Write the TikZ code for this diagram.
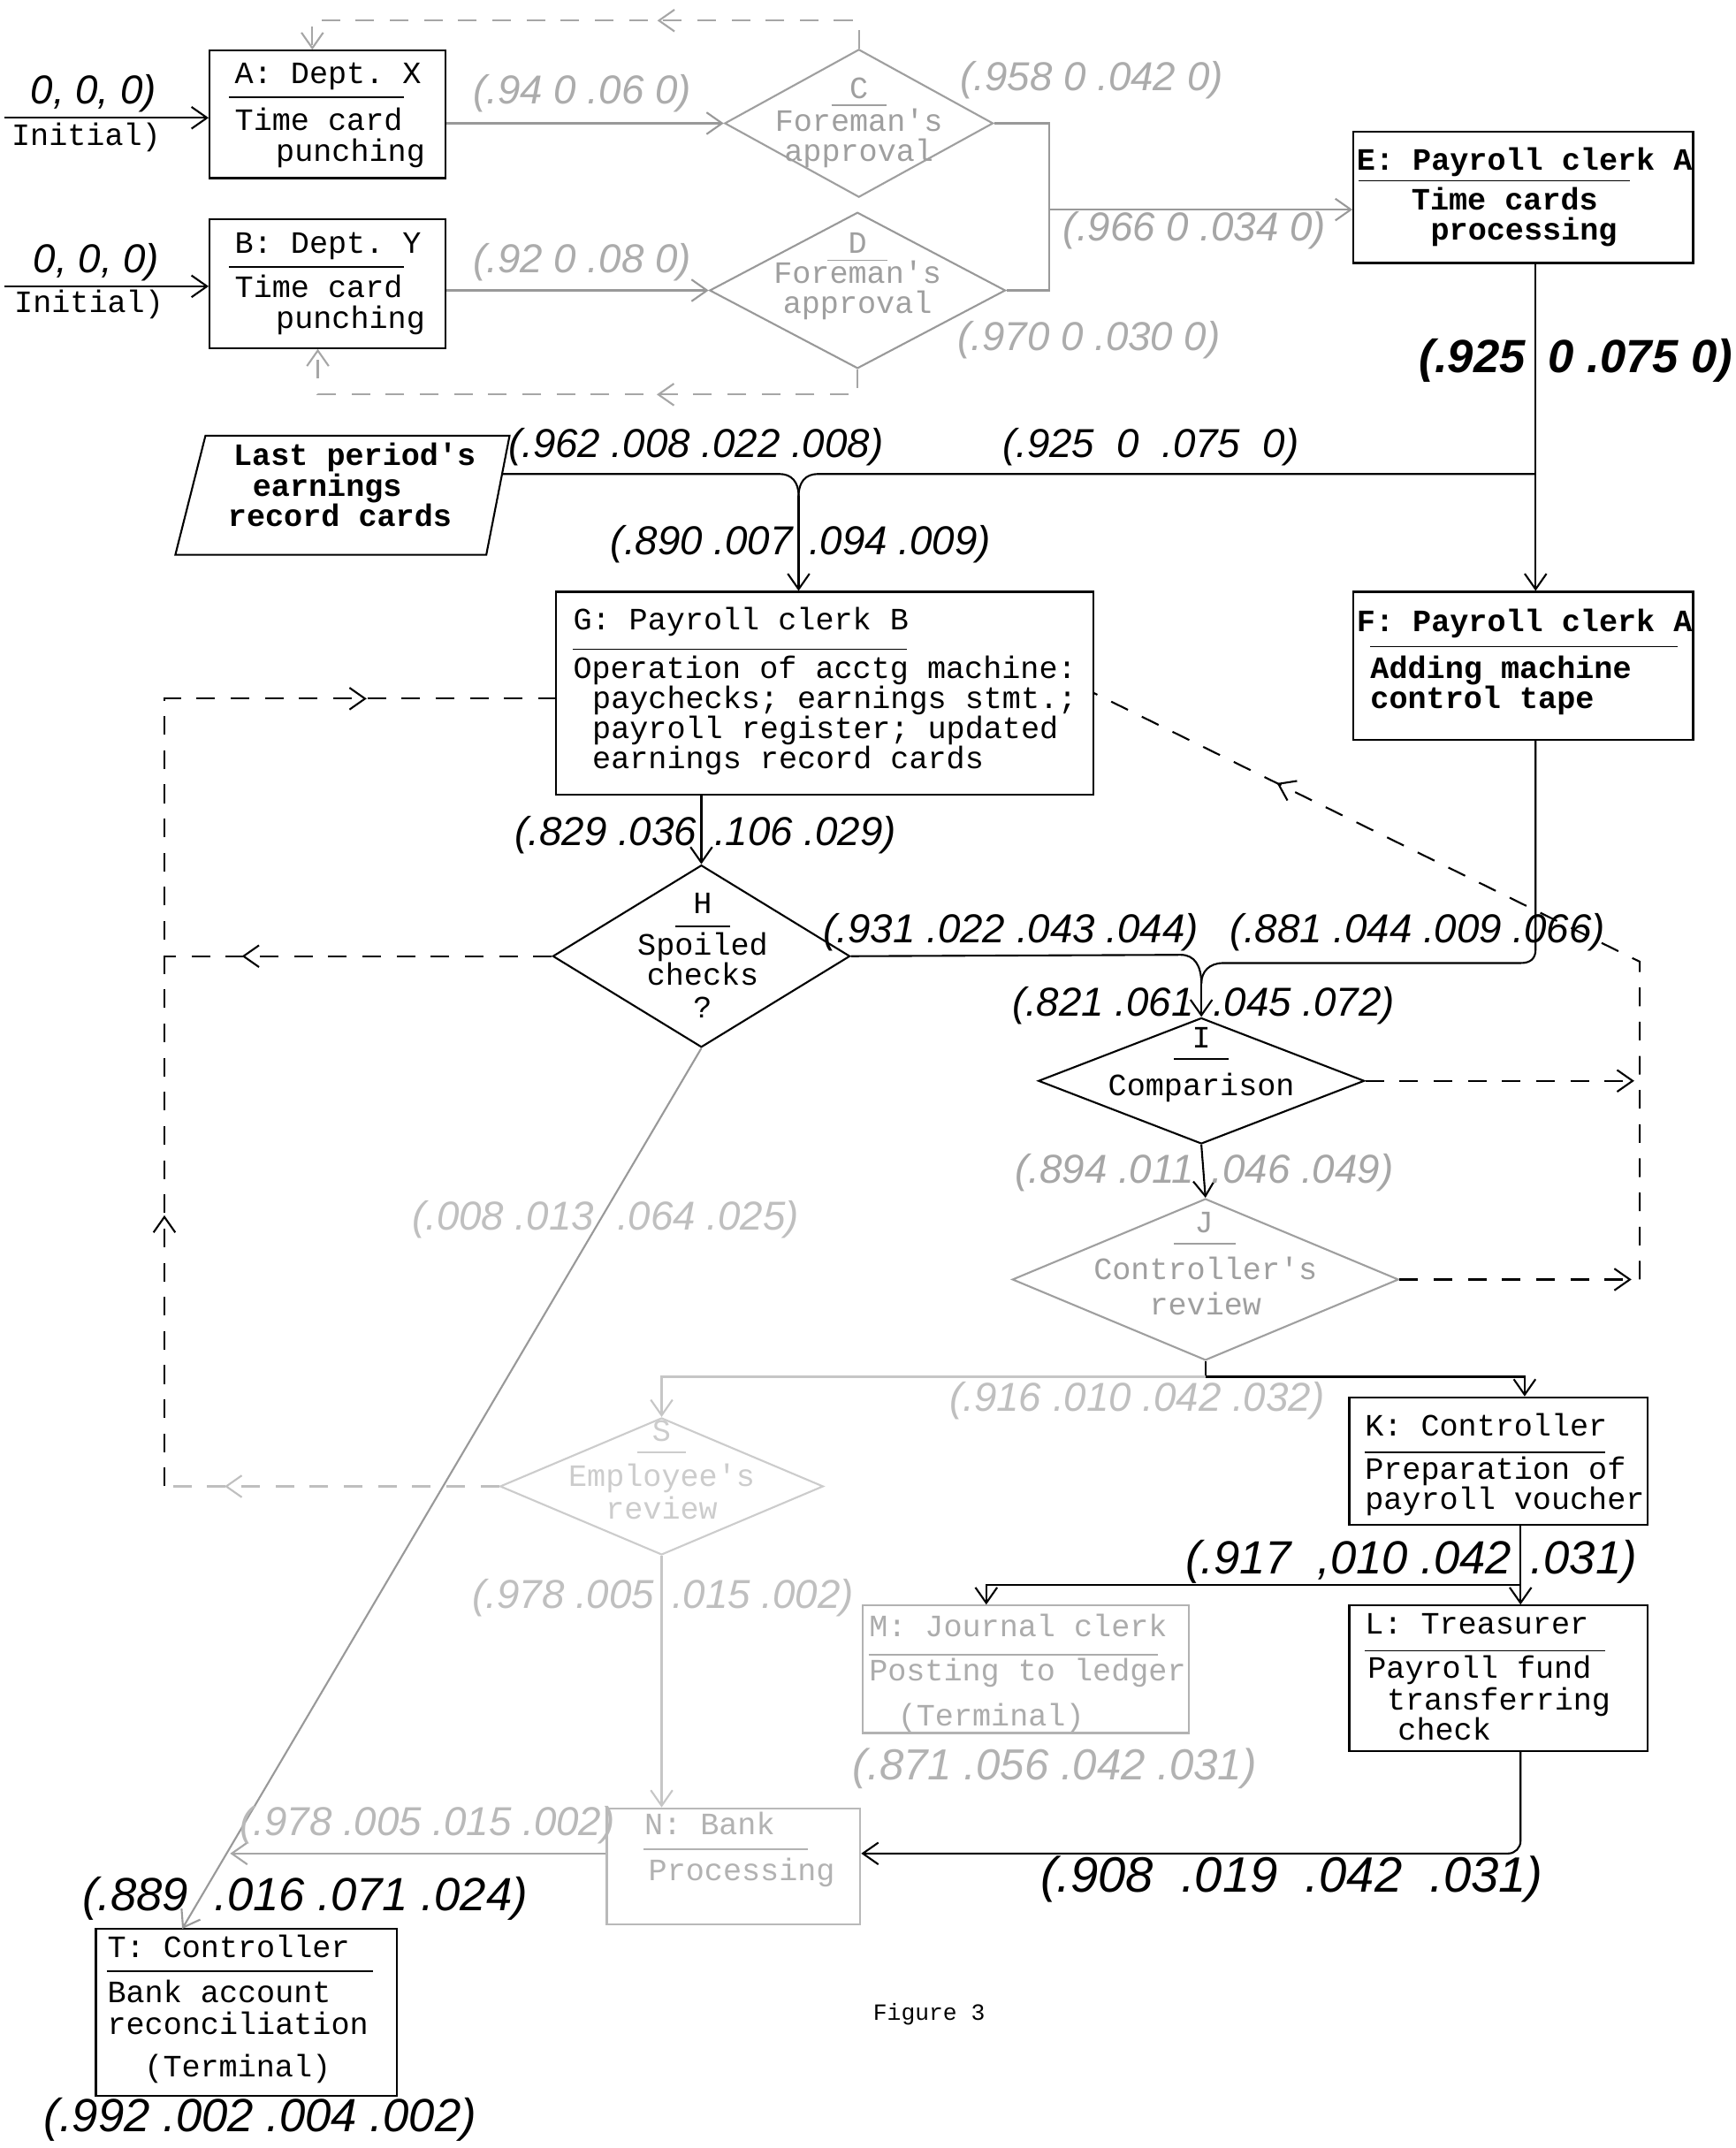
\documentclass[tikz,border=0pt]{standalone}
\usepackage{fontspec}
\setmonofont{Liberation Mono}
\newfontfamily\hwfont{Liberation Sans}
\usetikzlibrary{arrows.meta,shapes.geometric,decorations.markings,fit}
\begin{document}
\begin{tikzpicture}[x=0.0155cm,y=-0.0155cm,
  tx/.style={font=\ttfamily\fontsize{10}{10}\selectfont, inner sep=0, anchor=base west},
  txc/.style={tx, anchor=base},
  txb/.style={tx, font=\ttfamily\bfseries\fontsize{10}{10}\selectfont},
  lbl/.style={font=\hwfont\itshape\fontsize{13}{13}\selectfont, inner sep=0, anchor=base},
  lblb/.style={font=\hwfont\itshape\bfseries\fontsize{15}{15}\selectfont, inner sep=0, anchor=base},
  big/.style={font=\hwfont\itshape\fontsize{15}{15}\selectfont},
  box/.style={draw, line width=0.6pt, inner sep=0},
  dia/.style 2 args={draw, diamond, line width=0.6pt, inner sep=0, minimum width=#1*0.0155cm, minimum height=#2*0.0155cm},
  ln/.style={line width=0.6pt},
  arr/.style={-{Straight Barb[length=5pt,width=7pt]}},
  dsh/.style={line width=0.6pt, dash pattern=on 6pt off 5pt},
  midarr/.style={postaction={decorate}, decoration={markings, mark=at position #1 with {\arrow{Straight Barb[length=5pt,width=7pt]}}}},
  midarrtwo/.style 2 args={postaction={decorate}, decoration={markings, mark=at position #1 with {\arrow{Straight Barb[length=5pt,width=7pt]}}, mark=at position #2 with {\arrow{Straight Barb[length=5pt,width=7pt]}}}},
  ul/.style={line width=0.5pt}
]
\fill[white] (0,0) rectangle (1267,1568);
\useasboundingbox (0,0) rectangle (1267,1568);

% ---------- boxes ----------
\node[box, fit={(153,37) (325,130)}] (A) {};
\node[box, fit={(153,160) (325,254)}] (B) {};
\node[box, fit={(988,96) (1236,192)}] (E) {};
\node[box, fit={(988,432) (1236,540)}] (F) {};
\node[box, fit={(406,432) (798,580)}] (G) {};
\node[box, fit={(985,1020) (1203,1113)}] (K) {};
\node[box, fit={(985,1172) (1203,1278)}] (L) {};
\node[box, draw=gray!60, fit={(630,1172) (868,1265)}] (M) {};
\node[box, draw=gray!55, fit={(443,1320) (628,1405)}] (N) {};
\node[box, fit={(70,1408) (290,1530)}] (T) {};

% ---------- diamonds ----------
\node[dia={196}{108}, draw=gray!75] (C) at (627,90) {};
\node[dia={216}{114}, draw=gray!80] (D) at (626,212) {};
\node[dia={217}{133}] (H) at (512,698) {};
\node[dia={238}{92}] (I) at (877,789) {};
\node[dia={282}{118}, draw=gray!75] (J) at (880,934) {};
\node[dia={236}{100}, draw=gray!40] (S) at (483,1085) {};

% ---------- parallelogram ----------
\draw[ln] (150,318) -- (372,318) -- (355,405) -- (128,405) -- cycle;
\coordinate (Pout) at (366,346);

% ---------- box texts ----------
\node[tx] (At1) at (171,61) {A: Dept. X};
\draw[ul] (167,71) -- (295,71);
\node[tx] (At2) at (171,95) {Time card};
\node[tx] (At3) at (201,118) {punching};

\node[tx] (Bt1) at (171,185) {B: Dept. Y};
\draw[ul] (167,195) -- (295,195);
\node[tx] (Bt2) at (171,217) {Time card};
\node[tx] (Bt3) at (201,240) {punching};

\begin{scope}[gray!75]
\node[txc] (Ct1) at (627,72) {C};
\draw[ul] (607,77) -- (647,77);
\node[txc] (Ct2) at (627,96) {Foreman's};
\node[txc] (Ct3) at (627,118) {approval};
\node[txc] (Dt1) at (626,185) {D};
\draw[ul] (604,190) -- (648,190);
\node[txc] (Dt2) at (626,207) {Foreman's};
\node[txc] (Dt3) at (626,229) {approval};
\end{scope}

\node[txb] (Et1) at (990,124) {E: Payroll clerk A};
\draw[ul] (992,132) -- (1190,132);
\node[txb] (Et2) at (1030,153) {Time  cards};
\node[txb] (Et3) at (1044,175) {processing};

\node[txb] (Ft1) at (990,461) {F: Payroll clerk A};
\draw[ul] (1000,472) -- (1225,472);
\node[txb] (Ft2) at (1000,495) {Adding machine};
\node[txb] (Ft3) at (1000,517) {control  tape};

\node[txb] (Pt1) at (170,340) {Last period's};
\node[txb] (Pt2) at (184,362) {earnings};
\node[txb] (Pt3) at (166,384) {record  cards};

\node[tx] (Gt1) at (418,460) {G: Payroll clerk B};
\draw[ul] (418,474) -- (662,474);
\node[tx] (Gt2) at (418,495) {Operation of acctg machine:};
\node[tx] (Gt3) at (432,517) {paychecks; earnings stmt.;};
\node[tx] (Gt4) at (432,539) {payroll register; updated};
\node[tx] (Gt5) at (432,561) {earnings record cards};

\node[txc] (Ht1) at (513,667) {H};
\draw[ul] (493,676) -- (533,676);
\node[txc] (Ht2) at (513,697) {Spoiled};
\node[txc] (Ht3) at (513,719) {checks};
\node[txc] (Ht4) at (513,743) {?};

\node[txc] (It1) at (877,765) {I};
\draw[ul] (857,773) -- (897,773);
\node[txc] (It2) at (877,800) {Comparison};

\begin{scope}[gray!75]
\node[txc] (Jt1) at (879,900) {J};
\draw[ul] (857,908) -- (902,908);
\node[txc] (Jt2) at (880,934) {Controller's};
\node[txc] (Jt3) at (880,960) {review};
\end{scope}

\node[tx] (Kt1) at (996,1048) {K: Controller};
\draw[ul] (996,1060) -- (1172,1060);
\node[tx] (Kt2) at (996,1080) {Preparation of};
\node[tx] (Kt3) at (996,1102) {payroll voucher};

\node[tx] (Lt1) at (996,1193) {L: Treasurer};
\draw[ul] (996,1205) -- (1172,1205);
\node[tx] (Lt2) at (998,1225) {Payroll fund};
\node[tx] (Lt3) at (1012,1248) {transferring};
\node[tx] (Lt4) at (1020,1270) {check};

\begin{scope}[gray!65]
\node[tx] (Mt1) at (634,1195) {M: Journal clerk};
\draw[ul] (634,1208) -- (845,1208);
\node[tx] (Mt2) at (634,1227) {Posting to ledger};
\node[tx] (Mt3) at (655,1260) {(Terminal)};
\end{scope}

\begin{scope}[gray!40]
\node[txc] (St1) at (483,1052) {S};
\draw[ul] (465,1060) -- (501,1060);
\node[txc] (St2) at (483,1085) {Employee's};
\node[txc] (St3) at (483,1109) {review};
\end{scope}

\begin{scope}[gray!60]
\node[tx] (Nt1) at (470,1339) {N: Bank};
\draw[ul] (470,1350) -- (590,1350);
\node[tx] (Nt2) at (473,1373) {Processing};
\end{scope}

\node[tx] (Tt1) at (78,1429) {T: Controller};
\draw[ul] (78,1439) -- (272,1439);
\node[tx] (Tt2) at (78,1462) {Bank account};
\node[tx] (Tt3) at (78,1485) {reconciliation};
\node[tx] (Tt4) at (105,1516) {(Terminal)};

\node[tx, font=\ttfamily\fontsize{7.5}{8}\selectfont] (fig) at (637,1475) {Figure 3};

% ---------- inputs ----------
\coordinate (inA) at (3,86);
\coordinate (inB) at (3,209);
\draw[ln,arr] (inA) -- (inA -| A.west);
\draw[ln,arr] (inB) -- (inB -| B.west);
\node[lbl, anchor=base west] (iA1) at (22,76) {0, 0, 0)};
\node[tx] (iA2) at (8,106) {Initial)};
\node[lbl, anchor=base west] (iB1) at (24,199) {0, 0, 0)};
\node[tx] (iB2) at (10,228) {Initial)};

% ---------- A,B -> C,D ----------
\draw[ln,arr,gray!80] (A.east |- C.west) -- (C.west);
\draw[ln,arr,gray!80] (B.east |- D.west) -- (D.west);
\node[lbl, gray!65] (l1) at (425,76) {(.94 0 .06 0)};
\node[lbl, gray!65] (l2) at (425,199) {(.92 0 .08 0)};

% feedback from C and D
\coordinate (fbA) at (228,15);
\coordinate (fbB) at (232,288);
\draw[dsh, gray!70, arr, midarr=0.38] (C.north) |- (fbA) -- (fbA |- A.north);
\draw[dsh, gray!70, arr, midarr=0.37] (D.south) |- (fbB) -- (fbB |- B.south);

% ---------- C,D -> E ----------
\coordinate (jCD) at (766,153);
\draw[ln,gray!80] (C.east) -| (jCD);
\draw[ln,gray!80] (D.east) -| (jCD);
\draw[ln,arr,gray!80] (jCD) -- (jCD -| E.west);
\node[lbl, gray!65] (l3) at (797,66) {(.958 0 .042 0)};
\node[lbl, gray!70] (l4) at (872,176) {(.966 0 .034 0)};
\node[lbl, gray!65] (l5) at (795,256) {(.970 0 .030 0)};

% ---------- E -> F and G ----------
\coordinate (vEF) at (1121,346);
\draw[ln,arr] (vEF |- E.south) -- (vEF |- F.north);
\node[lblb, anchor=base east] (l6a) at (1114,272) {(.925};
\node[lblb, anchor=base west] (l6b) at (1130,272) {0 .075 0)};
\coordinate (mG) at (583,362);
\draw[ln] (vEF) -- (597,346) .. controls (588,346) and (583,352) .. (mG);
\draw[ln] (Pout) -- (569,346) .. controls (578,346) and (583,352) .. (mG);
\draw[ln,arr] (mG) -- (mG |- G.north);
\node[lbl] (l7) at (508,334) {(.962 .008 .022 .008)};
\node[lbl] (l8) at (840,334) {(.925 \ 0 \ .075 \ 0)};
\node[lbl, anchor=base east] (l9a) at (579,405) {(.890 .007};
\node[lbl, anchor=base west] (l9b) at (590,405) {.094 .009)};

% ---------- G -> H ----------
\draw[ln,arr] (G.south -| H.north) -- (H.north);
\node[lbl, anchor=base east] (l10a) at (509,617) {(.829 .036};
\node[lbl, anchor=base west] (l10b) at (521,617) {.106 .029)};

% ---------- H,F -> I ----------
\coordinate (mI) at (877,718);
\draw[ln] (H.east) -- (862,697) .. controls (872,697) and (877,705) .. (mI);
\draw[ln] (vEF |- F.south) -- (1121,693) .. controls (1121,700) and (1117,703) .. (1110,703) -- (893,703) .. controls (883,703) and (877,709) .. (mI);
\draw[ln,arr] (mI) -- (I.north);
\node[lbl] (l11) at (738,688) {(.931 .022 .043 .044)};
\node[lbl] (l12) at (1035,688) {(.881 .044 .009 .066)};
\node[lbl, anchor=base east] (l13a) at (872,742) {(.821 .061};
\node[lbl, anchor=base west] (l13b) at (885,742) {.045 .072)};

% ---------- I -> J ----------
\draw[ln,arr] (I.south) -- (J.north);
\node[lbl, gray!70, anchor=base east] (l14a) at (872,864) {(.894 .011};
\node[lbl, gray!70, anchor=base west] (l14b) at (884,864) {.046 .049)};

% ---------- right dashed loop back to G ----------
\coordinate (rTop) at (1197,702);
\coordinate (rI) at (1193,789);
\coordinate (rJ) at (1197,934);
\coordinate (rJa) at (1191,934);
\draw[dsh,arr] (I.east) -- (rI);
\draw[dsh,arr] (J.east) -- (rJa);
\draw[dsh, midarr=0.78] (rJ) -- (rTop) -- (G.east);

% ---------- left dashed loop back to G ----------
\coordinate (lB) at (120,1085);
\coordinate (lT) at (120,510);
\coordinate (lH) at (120,698);
\draw[dsh, midarr=0.8] (H.west) -- (lH);
\draw[dsh, gray!50, midarr=0.82] (S.west) -- (lB);
\draw[dsh, midarrtwo={0.23}{0.84}] (lB) -- (lT) -- (lT -| G.west);

% ---------- J -> K, S ----------
\coordinate (jJ) at (880,1005);
\coordinate (kIn) at (1113,1005);
\draw[ln] (J.south) -- (jJ);
\draw[ln,arr] (jJ) -- (kIn) -- (kIn |- K.north);
\draw[ln,gray!45,arr] (jJ) -| (S.north);
\node[lbl, gray!50] (l15) at (830,1030) {(.916 .010 .042 .032)};

% ---------- K -> L, M ----------
\coordinate (kL) at (1110,1157);
\coordinate (mIn) at (720,1157);
\draw[ln,arr] (kL |- K.south) -- (kL |- L.north);
\draw[ln,arr] (kL) -- (mIn) -- (mIn |- M.north);
\node[lbl, big, anchor=base east] (l16a) at (1104,1149) {(.917 \ ,010 .042};
\node[lbl, big, anchor=base west] (l16b) at (1117,1149) {.031)};
\node[lbl, gray!60, font=\hwfont\itshape\fontsize{14}{14}\selectfont] (l17) at (770,1299) {(.871 .056 .042 .031)};

% ---------- L -> N ----------
\coordinate (lN) at (1110,1353);
\draw[ln,arr,rounded corners=4pt] (lN |- L.south) -- (lN) -- (lN -| N.east);
\node[lbl, font=\hwfont\itshape\fontsize{16}{16}\selectfont] (l18) at (943,1381) {(.908 \ .019 \ .042 \ .031)};

% ---------- S -> N ----------
\draw[ln,gray!45,arr] (S.south) -- (S.south |- N.north);
\node[lbl, gray!50, anchor=base east] (l19a) at (478,1174) {(.978 .005};
\node[lbl, gray!50, anchor=base west] (l19b) at (490,1174) {.015 .002)};

% ---------- H -> T, N -> T ----------
\coordinate (tIn) at (133,1408);
\coordinate (nT) at (168,1353);
\draw[ln,arr,gray!80] (H.south) -- (tIn);
\draw[ln,arr,gray!70] (N.west |- nT) -- (nT);
\node[lbl, gray!50, anchor=base east] (l20a) at (434,898) {(.008 .013};
\node[lbl, gray!50, anchor=base west] (l20b) at (450,898) {.064 .025)};
\node[lbl, gray!55] (l21) at (312,1340) {(.978 .005 .015 .002)};
\node[lbl, big, anchor=base east] (l22a) at (138,1395) {(.889};
\node[lbl, big, anchor=base west] (l22b) at (156,1395) {.016 .071 .024)};
\node[lbl, font=\hwfont\itshape\fontsize{15}{15}\selectfont] (l23) at (190,1556) {(.992 .002 .004 .002)};
\end{tikzpicture}
\end{document}
